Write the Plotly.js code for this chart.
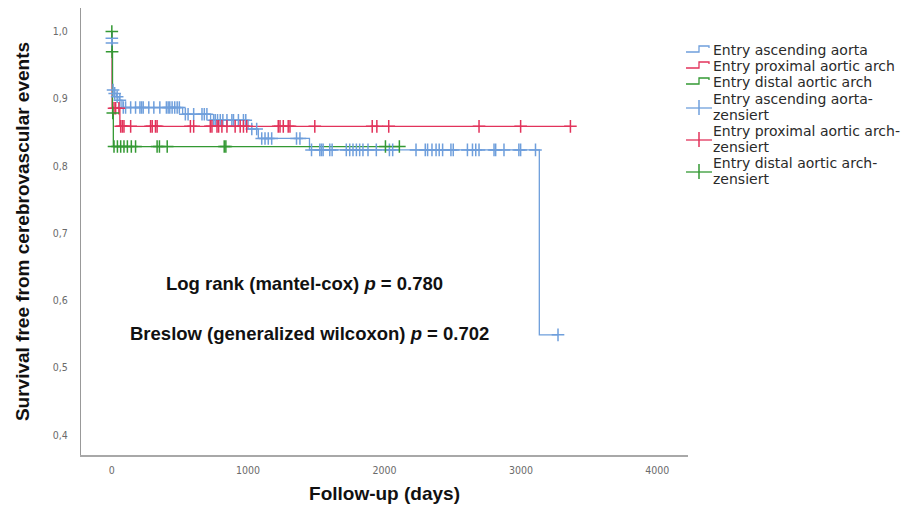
<!DOCTYPE html>
<html>
<head>
<meta charset="utf-8">
<script src="https://cdn.plot.ly/plotly-3.0.1.min.js"></script>
<style>html,body{margin:0;padding:0;background:#fff;}#chart{width:904px;height:507px;}</style>
</head>
<body>
<div id="chart"></div>
<script>
// Kaplan-Meier step points (time in days, survival)
const ascTime = [0, 1, 2, 5, 20, 35, 55, 75, 520, 725, 1000, 1075, 1450, 3135, 3272];
const ascSurv = [1.0, 0.99, 0.983, 0.913, 0.908, 0.903, 0.898, 0.887, 0.877, 0.868, 0.855, 0.841, 0.824, 0.549, 0.549];
const proxTime = [0, 3, 60, 3363];
const proxSurv = [1.0, 0.886, 0.859, 0.859];
const distTime = [0, 2, 6, 12, 2109];
const distSurv = [1.0, 0.97, 0.879, 0.829, 0.829];

// Censored observations
const ascCensTime = [1, 2, 10, 22, 40, 60,
  85, 102, 139, 175, 207, 219, 231, 272, 309, 353, 401, 414, 426, 443, 462, 480, 496,
  540, 560, 601, 662, 679, 698,
  747, 759, 776, 796, 815, 845, 881, 893, 929, 966, 983,
  1027, 1063,
  1100, 1124, 1148, 1173, 1355, 1380,
  1465, 1526, 1538, 1550, 1599, 1616, 1720, 1745, 1769, 1794, 1818, 1842, 1879, 1940, 2036, 2060,
  2231, 2299, 2316, 2348, 2378, 2401, 2426, 2487, 2504, 2608, 2645, 2669, 2693, 2803, 2815, 2876,
  2985, 2998, 3107,
  3272];
const ascCensSurv = [0.99, 0.983, 0.913, 0.908, 0.903, 0.898,
  0.887, 0.887, 0.887, 0.887, 0.887, 0.887, 0.887, 0.887, 0.887, 0.887, 0.887, 0.887, 0.887, 0.887, 0.887, 0.887, 0.887,
  0.877, 0.877, 0.877, 0.877, 0.877, 0.877,
  0.868, 0.868, 0.868, 0.868, 0.868, 0.868, 0.868, 0.868, 0.868, 0.868, 0.868,
  0.855, 0.855,
  0.841, 0.841, 0.841, 0.841, 0.841, 0.841,
  0.824, 0.824, 0.824, 0.824, 0.824, 0.824, 0.824, 0.824, 0.824, 0.824, 0.824, 0.824, 0.824, 0.824, 0.824, 0.824,
  0.824, 0.824, 0.824, 0.824, 0.824, 0.824, 0.824, 0.824, 0.824, 0.824, 0.824, 0.824, 0.824, 0.824, 0.824, 0.824,
  0.824, 0.824, 0.824,
  0.549];
const proxCensTime = [17, 29, 53,
  66, 78, 90, 139, 285, 297, 321, 333, 577, 601, 723, 735, 772, 784, 808, 845, 905, 942, 966, 990,
  1221, 1234, 1258, 1294, 1307, 1489, 1910, 1944, 2031, 2693, 2998, 3363];
const proxCensSurv = [0.886, 0.886, 0.886,
  0.859, 0.859, 0.859, 0.859, 0.859, 0.859, 0.859, 0.859, 0.859, 0.859, 0.859, 0.859, 0.859, 0.859, 0.859, 0.859, 0.859, 0.859, 0.859, 0.859,
  0.859, 0.859, 0.859, 0.859, 0.859, 0.859, 0.859, 0.859, 0.859, 0.859, 0.859, 0.859];
const distCensTime = [1, 3, 8, 17, 42, 66, 90, 115, 144, 175, 333, 350, 407, 825, 837, 2007, 2109];
const distCensSurv = [1.0, 0.97, 0.879, 0.829, 0.829, 0.829, 0.829, 0.829, 0.829, 0.829, 0.829, 0.829, 0.829, 0.829, 0.829, 0.829, 0.829];

const groupNames = ['Entry ascending aorta', 'Entry proximal aortic arch', 'Entry distal aortic arch'];
const censNames = ['Entry ascending aorta-', 'Entry proximal aortic arch-', 'Entry distal aortic arch-'];
const censSuffix = 'zensiert';
const xTickVals = [0, 1000, 2000, 3000, 4000];
const yTickVals = [0.4, 0.5, 0.6, 0.7, 0.8, 0.9, 1.0];
const statLines = ['<b>Log rank (mantel-cox) <i>p</i> = 0.780</b>', '<b>Breslow (generalized wilcoxon) <i>p</i> = 0.702</b>'];

const colors = ['#6f9fdc', '#e2335b', '#339933'];
const steps = [[ascTime, ascSurv], [proxTime, proxSurv], [distTime, distSurv]];
const cens = [[ascCensTime, ascCensSurv], [proxCensTime, proxCensSurv], [distCensTime, distCensSurv]];

const traces = [];
steps.forEach((s, i) => {
  traces.push({
    x: s[0], y: s[1], type: 'scatter', mode: 'lines', name: groupNames[i], showlegend: false,
    line: {shape: 'hv', color: colors[i], width: 1.3}, hoverinfo: 'skip'
  });
});
cens.forEach((c, i) => {
  traces.push({
    x: c[0], y: c[1], type: 'scatter', mode: 'markers', name: censNames[i] + censSuffix, showlegend: false,
    marker: {symbol: 'cross-thin-open', size: 9, color: colors[i], line: {color: colors[i], width: 1.5}},
    hoverinfo: 'skip'
  });
});

// plot-area geometry (pixels)
const L = 81, R = 688, T = 8, B = 455;
const px2x = (px) => (px - L) / (R - L);
const py2y = (py) => 1 - (py - T) / (B - T);

const annotations = [];
const shapes = [];
// statistics text
[[304, 283], [309, 333]].forEach((p, i) => {
  annotations.push({xref: 'paper', yref: 'paper', x: px2x(p[0]), y: py2y(p[1]), xanchor: 'center', yanchor: 'middle',
    text: statLines[i], showarrow: false, font: {family: 'Liberation Sans, Arial, sans-serif', size: 18.5, color: '#111'}});
});
// legend (drawn manually to match the reference spacing)
const legFont = {family: 'DejaVu Sans, sans-serif', size: 14, color: '#2a2a2a'};
const lineRows = [50, 66, 82];
const textX = 711;
groupNames.forEach((n, i) => {
  const c = lineRows[i];
  annotations.push({xref: 'paper', yref: 'paper', x: px2x(textX), y: py2y(c), xanchor: 'left', yanchor: 'middle',
    text: n, showarrow: false, font: legFont});
  shapes.push({type: 'path', xref: 'paper', yref: 'paper', layer: 'above',
    path: `M ${px2x(686)},${py2y(c + 2)} L ${px2x(699)},${py2y(c + 2)} L ${px2x(699)},${py2y(c - 4)} L ${px2x(709)},${py2y(c - 4)} L ${px2x(709)},${py2y(c - 2)}`,
    line: {color: colors[i], width: 1.3}});
});
const censRows = [[99, 115], [131, 147], [163, 179]];
censNames.forEach((n, i) => {
  const r = censRows[i];
  annotations.push({xref: 'paper', yref: 'paper', x: px2x(textX), y: py2y(r[0]), xanchor: 'left', yanchor: 'middle',
    text: n, showarrow: false, font: legFont});
  annotations.push({xref: 'paper', yref: 'paper', x: px2x(textX), y: py2y(r[1]), xanchor: 'left', yanchor: 'middle',
    text: censSuffix, showarrow: false, font: legFont});
  const mid = (r[0] + r[1]) / 2 + 1;
  shapes.push({type: 'line', xref: 'paper', yref: 'paper', layer: 'above',
    x0: px2x(686), x1: px2x(712), y0: py2y(mid), y1: py2y(mid), line: {color: colors[i], width: 1.3}});
  shapes.push({type: 'line', xref: 'paper', yref: 'paper', layer: 'above',
    x0: px2x(699), x1: px2x(699), y0: py2y(mid - 8), y1: py2y(mid + 7), line: {color: colors[i], width: 1.5}});
});

const layout = {
  width: 904, height: 507,
  margin: {l: L, r: 904 - R, t: T, b: 507 - B},
  paper_bgcolor: '#fff', plot_bgcolor: '#fff',
  separators: ',.',
  showlegend: false,
  font: {family: 'Liberation Sans, Arial, sans-serif', color: '#222'},
  xaxis: {
    range: [-225, 4225], tickvals: xTickVals, tickformat: 'd',
    showgrid: false, zeroline: false, showline: true, linecolor: '#a8a8a8', linewidth: 2,
    ticks: 'outside', ticklen: 4, tickcolor: 'rgba(0,0,0,0)',
    tickfont: {family: 'DejaVu Sans Condensed, Liberation Sans, sans-serif', size: 10.5, color: '#6a6a6a'},
    title: {text: '<b>Follow-up (days)</b>', font: {size: 19, color: '#111'}, standoff: 12}
  },
  yaxis: {
    range: [0.3703, 1.035], tickvals: yTickVals, tickformat: '.1f',
    showgrid: false, zeroline: false, showline: true, linecolor: '#999', linewidth: 1,
    ticks: 'outside', ticklen: 10, tickcolor: 'rgba(0,0,0,0)',
    tickfont: {family: 'DejaVu Sans Condensed, Liberation Sans, sans-serif', size: 10.5, color: '#6a6a6a'},
    title: {text: '<b>Survival free from cerebrovascular events</b>', font: {size: 19, color: '#111'}, standoff: 18}
  },
  annotations: annotations,
  shapes: shapes
};

Plotly.newPlot('chart', traces, layout, {displayModeBar: false, staticPlot: true});
</script>
</body>
</html>
